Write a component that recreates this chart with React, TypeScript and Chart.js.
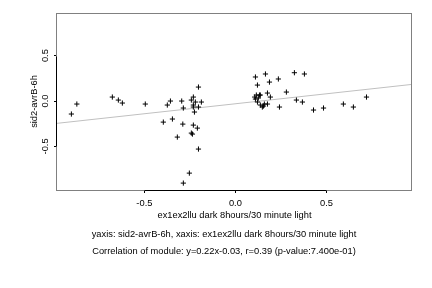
import React, { useEffect, useRef } from "react";
import { Chart, registerables } from "chart.js";

Chart.register(...registerables);

const xValues = [
  -0.901, -0.871, -0.676, -0.643, -0.621, -0.495, -0.396, -0.374, -0.357, -0.346,
  -0.319, -0.295, -0.289, -0.286, -0.286, -0.253, -0.242, -0.242, -0.236, -0.231,
  -0.231, -0.231, -0.231, -0.225, -0.22, -0.209, -0.203, -0.203, -0.203, -0.187,
  0.11, 0.11, 0.115, 0.121, 0.121, 0.126, 0.132, 0.137, 0.137, 0.154,
  0.159, 0.165, 0.176, 0.176, 0.187, 0.192, 0.236, 0.242, 0.28, 0.324,
  0.335, 0.368, 0.379, 0.429, 0.484, 0.593, 0.648, 0.72, 0.106, 0.148,
];
const yValues = [
  -0.143, -0.033, 0.044, 0.011, -0.022, -0.033, -0.232, -0.044, 0.0, -0.198,
  -0.397, 0.0, -0.254, -0.077, -0.904, -0.794, 0.011, -0.353, -0.364, 0.044,
  -0.044, -0.066, -0.265, -0.121, -0.011, -0.298, 0.154, -0.066, -0.529, -0.011,
  0.265, 0.022, 0.066, 0.176, -0.011, 0.033, 0.066, 0.066, -0.044, -0.055,
  -0.033, 0.298, 0.088, -0.033, 0.209, 0.044, 0.243, -0.066, 0.099, 0.312,
  0.011, -0.011, 0.298, -0.099, -0.077, -0.033, -0.066, 0.044, 0.044, -0.066,
];
const xTicks = [-0.5, 0, 0.5];
const yTicks = [-0.5, 0, 0.5];
const xRange = [-0.98, 0.97];
const yRange = [-0.98, 0.97];
const slope = 0.22;
const intercept = -0.03;
const xTitle = "ex1ex2llu dark 8hours/30 minute light";
const yTitle = "sid2-avrB-6h";
const captionLines = [
  "yaxis: sid2-avrB-6h, xaxis: ex1ex2llu dark 8hours/30 minute light",
  "Correlation of module: y=0.22x-0.03, r=0.39 (p-value:7.400e-01)",
];

const FONT = "'Liberation Sans', Arial, Helvetica, sans-serif";
const FS = 9.3;

const fmt = (v: number) => v.toFixed(1);

const decorPlugin = {
  id: "decor",
  afterDraw(chart: any) {
    const { ctx, chartArea, scales } = chart;
    const xs = scales.x;
    const ys = scales.y;
    ctx.save();
    // plot box
    ctx.strokeStyle = "#808080";
    ctx.lineWidth = 1;
    ctx.strokeRect(
      chartArea.left - 0.5,
      chartArea.top + 0.5,
      chartArea.right - chartArea.left,
      chartArea.bottom - chartArea.top
    );
    // axis lines over tick range
    ctx.strokeStyle = "#000";
    ctx.beginPath();
    const by = chartArea.bottom + 0.5;
    ctx.moveTo(Math.round(xs.getPixelForValue(xTicks[0])) + 0.5, by);
    ctx.lineTo(Math.round(xs.getPixelForValue(xTicks[xTicks.length - 1])) + 0.5, by);
    const lx = chartArea.left - 0.5;
    ctx.moveTo(lx, Math.round(ys.getPixelForValue(yTicks[0])) + 0.5);
    ctx.lineTo(lx, Math.round(ys.getPixelForValue(yTicks[yTicks.length - 1])) + 0.5);
    ctx.stroke();

    ctx.fillStyle = "#000";
    ctx.font = `${FS}px ${FONT}`;
    ctx.textAlign = "center";
    ctx.textBaseline = "middle";
    // y tick labels (rotated)
    yTicks.forEach((v) => {
      const py = ys.getPixelForValue(v);
      ctx.save();
      ctx.translate(45, py);
      ctx.rotate(-Math.PI / 2);
      ctx.fillText(fmt(v), 0, 0);
      ctx.restore();
    });
    // y title
    ctx.save();
    ctx.translate(34, (chartArea.top + chartArea.bottom) / 2);
    ctx.rotate(-Math.PI / 2);
    ctx.fillText(yTitle, 0, 0);
    ctx.restore();
    // x title
    ctx.fillText(xTitle, (chartArea.left + chartArea.right) / 2, 215);
    // caption lines
    captionLines.forEach((line, i) => {
      ctx.fillText(line, 224, 234 + i * 17);
    });
    ctx.restore();
  },
};

export default function App() {
  const ref = useRef<HTMLCanvasElement | null>(null);
  useEffect(() => {
    if (!ref.current) return;
    const points = xValues.map((x, i) => ({ x, y: yValues[i] }));
    const fit = xRange.map((x) => ({ x, y: slope * x + intercept }));
    const chart = new Chart(ref.current, {
      type: "scatter",
      data: {
        datasets: [
          {
            data: points,
            pointStyle: "cross",
            pointRadius: 2.6,
            pointBorderColor: "#000",
            pointBorderWidth: 1,
            backgroundColor: "#000",
            borderColor: "#000",
            order: 0,
          },
          {
            data: fit,
            showLine: true,
            pointRadius: 0,
            borderColor: "#c0c0c0",
            borderWidth: 1,
            order: 1,
          },
        ],
      },
      options: {
        responsive: false,
        animation: false,
        devicePixelRatio: 1,
        layout: { padding: { top: 13, right: 20, left: 0, bottom: 0 } },
        plugins: {
          legend: { display: false },
          tooltip: { enabled: false },
        },
        scales: {
          x: {
            type: "linear",
            min: xRange[0],
            max: xRange[1],
            afterBuildTicks: (s: any) => {
              s.ticks = xTicks.map((v) => ({ value: v }));
            },
            afterFit: (s: any) => {
              s.height = 98;
            },
            border: { display: false },
            grid: {
              drawOnChartArea: false,
              drawTicks: true,
              tickLength: 3,
              color: "#000",
            },
            ticks: {
              color: "#000",
              font: { family: FONT, size: FS },
              padding: 5,
              maxRotation: 0,
              callback: (v: any) => fmt(Number(v)),
            },
          },
          y: {
            type: "linear",
            min: yRange[0],
            max: yRange[1],
            afterBuildTicks: (s: any) => {
              s.ticks = yTicks.map((v) => ({ value: v }));
            },
            afterFit: (s: any) => {
              s.width = 57;
            },
            border: { display: false },
            grid: {
              drawOnChartArea: false,
              drawTicks: true,
              tickLength: 3,
              color: "#000",
            },
            ticks: { display: false },
          },
        },
      },
      plugins: [decorPlugin],
    });
    return () => chart.destroy();
  }, []);
  return (
    <div style={{ position: "absolute", left: 0, top: 0, width: 432, height: 288, background: "#fff" }}>
      <canvas ref={ref} width={432} height={288} style={{ width: 432, height: 288 }} />
    </div>
  );
}
